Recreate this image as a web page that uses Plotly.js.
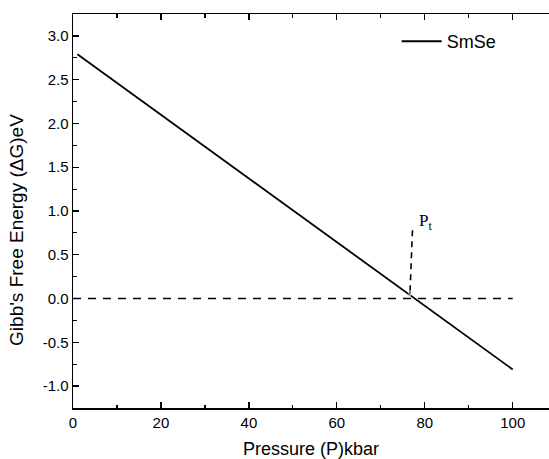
<!DOCTYPE html>
<html>
<head>
<meta charset="utf-8">
<script src="https://cdn.plot.ly/plotly-3.0.1.min.js"></script>
<style>html,body{margin:0;padding:0;background:#fff;}#chart{width:549px;height:459px;}</style>
</head>
<body>
<div id="chart"></div>
<script>
// Data
const seriesName = "SmSe";
const pressure = [1, 100];
const gibbs = [2.79, -0.81];
const zeroLineX = [0, 100];
const zeroLineY = [0, 0];
const ptX = [77.2, 76.6];
const ptY = [0.78, 0.02];
const ptLabel = "P<sub>t</sub>";
const ptLabelX = 78.2;
const ptLabelY = 0.87;
const xTicks = [0, 20, 40, 60, 80, 100];
const yTicks = [3.0, 2.5, 2.0, 1.5, 1.0, 0.5, 0.0, -0.5, -1.0];
const yTickText = ["3.0", "2.5", "2.0", "1.5", "1.0", "0.5", "0.0", "-0.5", "-1.0"];
const xTitle = "Pressure (P)kbar";
const yTitle = "Gibb's Free Energy (\u0394G)eV";

const font = "Liberation Sans, Arial, sans-serif";

const traces = [
  {x: pressure, y: gibbs, mode: "lines", name: seriesName,
   line: {color: "#000", width: 1.8}, showlegend: true},
  {x: zeroLineX, y: zeroLineY, mode: "lines", showlegend: false,
   line: {color: "#000", width: 1.6, dash: "8px,7px"}},
  {x: ptX, y: ptY, mode: "lines+markers", showlegend: false,
   line: {color: "#000", width: 1.6, dash: "6px,5px"},
   marker: {symbol: "arrow", angleref: "previous", size: [0, 6], color: "#000"}}
];

const tickFont = {family: font, size: 15, color: "#000"};

const layout = {
  width: 549, height: 459,
  margin: {l: 73, r: 0, t: 14, b: 51},
  paper_bgcolor: "#fff", plot_bgcolor: "#fff",
  xaxis: {
    showgrid: false, zeroline: false, showline: true, linecolor: "#000", linewidth: 1.5,
    ticks: "inside", ticklen: 6, tickwidth: 1.3, tickcolor: "#000", mirror: "allticks",
    tickfont: tickFont,
    range: [0, 108.25], tickvals: xTicks,
    minor: {dtick: 10, tick0: 0, ticks: "inside", ticklen: 3.5, tickwidth: 1.2, tickcolor: "#000"},
    title: {text: xTitle, font: {family: font, size: 18, color: "#000"}, standoff: 14}
  },
  yaxis: {
    showgrid: false, zeroline: false, showline: true, linecolor: "#000", linewidth: 1.5,
    ticks: "inside", ticklen: 6, tickwidth: 1.3, tickcolor: "#000", mirror: false,
    tickfont: tickFont,
    range: [-1.25, 3.25], tickvals: yTicks, ticktext: yTickText,
    minor: {dtick: 0.25, tick0: 0, ticks: "inside", ticklen: 3.5, tickwidth: 1.2, tickcolor: "#000"}
  },
  legend: {x: 0.68, y: 0.977, xanchor: "left", yanchor: "top", bgcolor: "rgba(0,0,0,0)",
           itemwidth: 40,
           font: {family: font, size: 18, color: "#000"}},
  annotations: [
    {x: ptLabelX, y: ptLabelY, xref: "x", yref: "y", text: ptLabel, showarrow: false,
     xanchor: "left", yanchor: "middle",
     font: {family: "Liberation Serif, Times New Roman, serif", size: 17, color: "#000"}},
    {x: 17, y: 0.452, xref: "paper", yref: "paper", xshift: -73, text: yTitle, showarrow: false,
     textangle: -90, xanchor: "center", yanchor: "middle",
     font: {family: font, size: 19, color: "#000"}}
  ]
};
// place the y title at 17px from the left edge of the page
layout.annotations[1].x = 0;
layout.annotations[1].xshift = 17 - 73;

Plotly.newPlot("chart", traces, layout, {displayModeBar: false, staticPlot: true});
</script>
</body>
</html>
